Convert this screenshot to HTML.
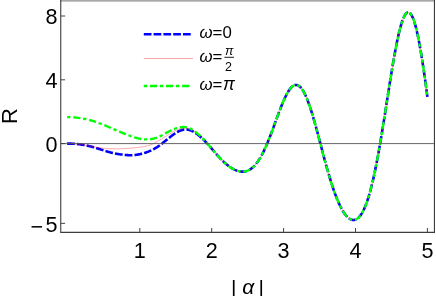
<!DOCTYPE html>
<html><head><meta charset="utf-8"><title>plot</title>
<style>html,body{margin:0;padding:0;background:#fff;overflow:hidden}body{width:436px;height:296px;position:relative;font-family:"Liberation Sans",sans-serif}</style>
</head><body>
<svg width="436" height="296" viewBox="0 0 436 296" style="display:block;position:absolute;left:0;top:0;will-change:transform">
<rect width="436" height="296" fill="#fff"/>
<path d="M67.11 143.60 L67.71 143.60 L68.31 143.60 L68.91 143.60 L69.52 143.61 L70.12 143.62 L70.72 143.64 L71.32 143.66 L71.92 143.68 L72.52 143.70 L73.12 143.73 L73.73 143.76 L74.33 143.80 L74.93 143.84 L75.53 143.89 L76.13 143.94 L76.73 143.99 L77.33 144.05 L77.94 144.11 L78.54 144.18 L79.14 144.25 L79.74 144.33 L80.34 144.41 L80.94 144.50 L81.54 144.59 L82.15 144.69 L82.75 144.79 L83.35 144.89 L83.95 145.00 L84.55 145.11 L85.15 145.23 L85.76 145.35 L86.36 145.47 L86.96 145.60 L87.56 145.73 L88.16 145.87 L88.76 146.01 L89.36 146.16 L89.97 146.31 L90.57 146.46 L91.17 146.61 L91.77 146.77 L92.37 146.93 L92.97 147.10 L93.57 147.27 L94.18 147.44 L94.78 147.62 L95.38 147.79 L95.98 147.97 L96.58 148.16 L97.18 148.34 L97.78 148.53 L98.39 148.72 L98.99 148.91 L99.59 149.10 L100.19 149.29 L100.79 149.48 L101.39 149.68 L102.00 149.87 L102.60 150.06 L103.20 150.26 L103.80 150.45 L104.40 150.64 L105.00 150.83 L105.60 151.01 L106.21 151.20 L106.81 151.38 L107.41 151.56 L108.01 151.74 L108.61 151.92 L109.21 152.09 L109.81 152.26 L110.42 152.42 L111.02 152.58 L111.62 152.73 L112.22 152.88 L112.82 153.02 L113.42 153.16 L114.03 153.29 L114.63 153.42 L115.23 153.54 L115.83 153.66 L116.43 153.77 L117.03 153.88 L117.63 153.98 L118.24 154.08 L118.84 154.17 L119.44 154.26 L120.04 154.35 L120.64 154.43 L121.24 154.51 L121.84 154.58 L122.45 154.65 L123.05 154.72 L123.65 154.79 L124.25 154.85 L124.85 154.91 L125.45 154.97 L126.05 155.02 L126.66 155.07 L127.26 155.12 L127.86 155.16 L128.46 155.19 L129.06 155.22 L129.66 155.24 L130.27 155.24 L130.87 155.24 L131.47 155.23 L132.07 155.21 L132.67 155.18 L133.27 155.14 L133.87 155.09 L134.48 155.04 L135.08 154.97 L135.68 154.90 L136.28 154.81 L136.88 154.72 L137.48 154.62 L138.08 154.52 L138.69 154.40 L139.29 154.28 L139.89 154.15 L140.49 154.02 L141.09 153.88 L141.69 153.73 L142.30 153.57 L142.90 153.41 L143.50 153.24 L144.10 153.07 L144.70 152.88 L145.30 152.69 L145.90 152.50 L146.51 152.29 L147.11 152.08 L147.71 151.85 L148.31 151.62 L148.91 151.38 L149.51 151.13 L150.11 150.87 L150.72 150.60 L151.32 150.33 L151.92 150.04 L152.52 149.74 L153.12 149.43 L153.72 149.11 L154.32 148.78 L154.93 148.44 L155.53 148.09 L156.13 147.73 L156.73 147.36 L157.33 146.97 L157.93 146.58 L158.54 146.17 L159.14 145.76 L159.74 145.33 L160.34 144.89 L160.94 144.45 L161.54 143.99 L162.14 143.53 L162.75 143.06 L163.35 142.58 L163.95 142.09 L164.55 141.60 L165.15 141.11 L165.75 140.62 L166.35 140.12 L166.96 139.62 L167.56 139.13 L168.16 138.63 L168.76 138.14 L169.36 137.65 L169.96 137.17 L170.56 136.70 L171.17 136.23 L171.77 135.76 L172.37 135.31 L172.97 134.87 L173.57 134.44 L174.17 134.02 L174.78 133.61 L175.38 133.21 L175.98 132.83 L176.58 132.47 L177.18 132.12 L177.78 131.79 L178.38 131.47 L178.99 131.18 L179.59 130.90 L180.19 130.65 L180.79 130.42 L181.39 130.21 L181.99 130.03 L182.59 129.87 L183.20 129.74 L183.80 129.63 L184.40 129.55 L185.00 129.50 L185.60 129.48 L186.20 129.49 L186.81 129.53 L187.41 129.60 L188.01 129.70 L188.61 129.82 L189.21 129.97 L189.81 130.15 L190.41 130.35 L191.02 130.58 L191.62 130.83 L192.22 131.10 L192.82 131.39 L193.42 131.71 L194.02 132.04 L194.62 132.40 L195.23 132.77 L195.83 133.16 L196.43 133.57 L197.03 134.00 L197.63 134.45 L198.23 134.91 L198.83 135.39 L199.44 135.89 L200.04 136.40 L200.64 136.93 L201.24 137.47 L201.84 138.03 L202.44 138.60 L203.05 139.18 L203.65 139.78 L204.25 140.39 L204.85 141.01 L205.45 141.64 L206.05 142.28 L206.65 142.93 L207.26 143.59 L207.86 144.25 L208.46 144.92 L209.06 145.60 L209.66 146.28 L210.26 146.97 L210.86 147.66 L211.47 148.36 L212.07 149.07 L212.67 149.79 L213.27 150.50 L213.87 151.21 L214.47 151.92 L215.07 152.63 L215.68 153.33 L216.28 154.02 L216.88 154.71 L217.48 155.39 L218.08 156.06 L218.68 156.72 L219.29 157.38 L219.89 158.03 L220.49 158.66 L221.09 159.29 L221.69 159.90 L222.29 160.50 L222.89 161.09 L223.50 161.67 L224.10 162.24 L224.70 162.79 L225.30 163.33 L225.90 163.86 L226.50 164.37 L227.10 164.86 L227.71 165.34 L228.31 165.81 L228.91 166.26 L229.51 166.70 L230.11 167.12 L230.71 167.52 L231.32 167.91 L231.92 168.28 L232.52 168.63 L233.12 168.96 L233.72 169.28 L234.32 169.58 L234.92 169.86 L235.53 170.12 L236.13 170.37 L236.73 170.59 L237.33 170.79 L237.93 170.97 L238.53 171.13 L239.13 171.27 L239.74 171.39 L240.34 171.49 L240.94 171.56 L241.54 171.61 L242.14 171.63 L242.74 171.63 L243.34 171.60 L243.95 171.55 L244.55 171.47 L245.15 171.36 L245.75 171.23 L246.35 171.07 L246.95 170.87 L247.56 170.65 L248.16 170.39 L248.76 170.11 L249.36 169.79 L249.96 169.44 L250.56 169.05 L251.16 168.63 L251.77 168.18 L252.37 167.69 L252.97 167.16 L253.57 166.60 L254.17 166.00 L254.77 165.36 L255.37 164.68 L255.98 163.96 L256.58 163.21 L257.18 162.41 L257.78 161.58 L258.38 160.71 L258.98 159.80 L259.59 158.84 L260.19 157.85 L260.79 156.82 L261.39 155.75 L261.99 154.64 L262.59 153.50 L263.19 152.31 L263.80 151.09 L264.40 149.83 L265.00 148.54 L265.60 147.21 L266.20 145.85 L266.80 144.46 L267.40 143.04 L268.01 141.59 L268.61 140.11 L269.21 138.60 L269.81 137.08 L270.41 135.52 L271.01 133.95 L271.61 132.36 L272.22 130.75 L272.82 129.13 L273.42 127.50 L274.02 125.86 L274.62 124.21 L275.22 122.56 L275.83 120.91 L276.43 119.26 L277.03 117.62 L277.63 115.98 L278.23 114.35 L278.83 112.73 L279.43 111.14 L280.04 109.56 L280.64 108.00 L281.24 106.47 L281.84 104.97 L282.44 103.50 L283.04 102.06 L283.64 100.67 L284.25 99.31 L284.85 98.00 L285.45 96.74 L286.05 95.52 L286.65 94.36 L287.25 93.25 L287.85 92.21 L288.46 91.22 L289.06 90.30 L289.66 89.44 L290.26 88.65 L290.86 87.93 L291.46 87.29 L292.07 86.72 L292.67 86.22 L293.27 85.80 L293.87 85.47 L294.47 85.21 L295.07 85.04 L295.67 84.94 L296.28 84.94 L296.88 85.01 L297.48 85.17 L298.08 85.42 L298.68 85.75 L299.28 86.17 L299.88 86.68 L300.49 87.27 L301.09 87.94 L301.69 88.70 L302.29 89.54 L302.89 90.46 L303.49 91.47 L304.10 92.55 L304.70 93.71 L305.30 94.95 L305.90 96.26 L306.50 97.64 L307.10 99.10 L307.70 100.62 L308.31 102.21 L308.91 103.86 L309.51 105.57 L310.11 107.34 L310.71 109.17 L311.31 111.05 L311.91 112.97 L312.52 114.95 L313.12 116.97 L313.72 119.02 L314.32 121.12 L314.92 123.24 L315.52 125.40 L316.12 127.59 L316.73 129.80 L317.33 132.03 L317.93 134.28 L318.53 136.54 L319.13 138.82 L319.73 141.10 L320.34 143.39 L320.94 145.67 L321.54 147.96 L322.14 150.25 L322.74 152.52 L323.34 154.79 L323.94 157.05 L324.55 159.29 L325.15 161.51 L325.75 163.71 L326.35 165.90 L326.95 168.05 L327.55 170.18 L328.15 172.28 L328.76 174.35 L329.36 176.39 L329.96 178.39 L330.56 180.36 L331.16 182.29 L331.76 184.18 L332.37 186.04 L332.97 187.85 L333.57 189.62 L334.17 191.34 L334.77 193.02 L335.37 194.65 L335.97 196.24 L336.58 197.78 L337.18 199.28 L337.78 200.72 L338.38 202.12 L338.98 203.47 L339.58 204.77 L340.18 206.02 L340.79 207.21 L341.39 208.36 L341.99 209.46 L342.59 210.50 L343.19 211.49 L343.79 212.43 L344.39 213.32 L345.00 214.15 L345.60 214.93 L346.20 215.66 L346.80 216.33 L347.40 216.95 L348.00 217.51 L348.61 218.02 L349.21 218.47 L349.81 218.86 L350.41 219.20 L351.01 219.47 L351.61 219.69 L352.21 219.85 L352.82 219.94 L353.42 219.98 L354.02 219.95 L354.62 219.86 L355.22 219.70 L355.82 219.48 L356.42 219.19 L357.03 218.83 L357.63 218.40 L358.23 217.90 L358.83 217.32 L359.43 216.68 L360.03 215.95 L360.63 215.16 L361.24 214.28 L361.84 213.32 L362.44 212.29 L363.04 211.17 L363.64 209.97 L364.24 208.69 L364.85 207.32 L365.45 205.87 L366.05 204.33 L366.65 202.70 L367.25 200.98 L367.85 199.17 L368.45 197.28 L369.06 195.30 L369.66 193.22 L370.26 191.06 L370.86 188.80 L371.46 186.46 L372.06 184.03 L372.66 181.51 L373.27 178.90 L373.87 176.20 L374.47 173.43 L375.07 170.56 L375.67 167.62 L376.27 164.59 L376.88 161.49 L377.48 158.32 L378.08 155.07 L378.68 151.75 L379.28 148.37 L379.88 144.92 L380.48 141.41 L381.09 137.85 L381.69 134.24 L382.29 130.58 L382.89 126.87 L383.49 123.13 L384.09 119.36 L384.69 115.56 L385.30 111.74 L385.90 107.90 L386.50 104.06 L387.10 100.20 L387.70 96.35 L388.30 92.51 L388.90 88.68 L389.51 84.88 L390.11 81.10 L390.71 77.35 L391.31 73.65 L391.91 69.99 L392.51 66.39 L393.12 62.84 L393.72 59.37 L394.32 55.97 L394.92 52.65 L395.52 49.42 L396.12 46.29 L396.72 43.26 L397.33 40.33 L397.93 37.52 L398.53 34.83 L399.13 32.27 L399.73 29.84 L400.33 27.54 L400.93 25.39 L401.54 23.39 L402.14 21.54 L402.74 19.85 L403.34 18.32 L403.94 16.95 L404.54 15.76 L405.14 14.74 L405.75 13.89 L406.35 13.22 L406.95 12.74 L407.55 12.44 L408.15 12.32 L408.75 12.39 L409.36 12.64 L409.96 13.08 L410.56 13.71 L411.16 14.53 L411.76 15.53 L412.36 16.72 L412.96 18.10 L413.57 19.65 L414.17 21.39 L414.77 23.30 L415.37 25.39 L415.97 27.65 L416.57 30.08 L417.17 32.67 L417.78 35.42 L418.38 38.33 L418.98 41.39 L419.58 44.60 L420.18 47.94 L420.78 51.42 L421.39 55.03 L421.99 58.77 L422.59 62.62 L423.19 66.58 L423.79 70.64 L424.39 74.80 L424.99 79.06 L425.60 83.40 L426.20 87.81 L426.80 92.30 L427.40 96.84" fill="none" stroke="#0000ff" stroke-width="2.6" stroke-dasharray="7.722 2.101"/>
<path d="M67.11 143.60 L67.71 143.60 L68.31 143.60 L68.91 143.60 L69.52 143.61 L70.12 143.62 L70.72 143.64 L71.32 143.65 L71.92 143.67 L72.52 143.70 L73.12 143.73 L73.73 143.76 L74.33 143.80 L74.93 143.84 L75.53 143.88 L76.13 143.93 L76.73 143.99 L77.33 144.05 L77.94 144.11 L78.54 144.18 L79.14 144.26 L79.74 144.34 L80.34 144.42 L80.94 144.51 L81.54 144.60 L82.15 144.70 L82.75 144.79 L83.35 144.89 L83.95 145.00 L84.55 145.10 L85.15 145.21 L85.76 145.32 L86.36 145.44 L86.96 145.55 L87.56 145.66 L88.16 145.78 L88.76 145.90 L89.36 146.01 L89.97 146.13 L90.57 146.25 L91.17 146.36 L91.77 146.48 L92.37 146.59 L92.97 146.70 L93.57 146.82 L94.18 146.93 L94.78 147.03 L95.38 147.14 L95.98 147.24 L96.58 147.34 L97.18 147.43 L97.78 147.52 L98.39 147.61 L98.99 147.70 L99.59 147.78 L100.19 147.86 L100.79 147.94 L101.39 148.02 L102.00 148.09 L102.60 148.16 L103.20 148.23 L103.80 148.29 L104.40 148.35 L105.00 148.41 L105.60 148.46 L106.21 148.52 L106.81 148.56 L107.41 148.61 L108.01 148.65 L108.61 148.69 L109.21 148.73 L109.81 148.76 L110.42 148.79 L111.02 148.81 L111.62 148.83 L112.22 148.85 L112.82 148.86 L113.42 148.87 L114.03 148.88 L114.63 148.88 L115.23 148.88 L115.83 148.88 L116.43 148.88 L117.03 148.87 L117.63 148.85 L118.24 148.84 L118.84 148.82 L119.44 148.80 L120.04 148.78 L120.64 148.76 L121.24 148.74 L121.84 148.71 L122.45 148.68 L123.05 148.65 L123.65 148.62 L124.25 148.59 L124.85 148.55 L125.45 148.52 L126.05 148.48 L126.66 148.44 L127.26 148.41 L127.86 148.37 L128.46 148.32 L129.06 148.28 L129.66 148.24 L130.27 148.19 L130.87 148.15 L131.47 148.10 L132.07 148.05 L132.67 148.00 L133.27 147.94 L133.87 147.89 L134.48 147.83 L135.08 147.77 L135.68 147.71 L136.28 147.64 L136.88 147.58 L137.48 147.51 L138.08 147.43 L138.69 147.36 L139.29 147.28 L139.89 147.20 L140.49 147.12 L141.09 147.03 L141.69 146.94 L142.30 146.84 L142.90 146.74 L143.50 146.64 L144.10 146.53 L144.70 146.42 L145.30 146.29 L145.90 146.17 L146.51 146.03 L147.11 145.88 L147.71 145.72 L148.31 145.55 L148.91 145.37 L149.51 145.17 L150.11 144.96 L150.72 144.74 L151.32 144.50 L151.92 144.25 L152.52 143.98 L153.12 143.69 L153.72 143.39 L154.32 143.08 L154.93 142.76 L155.53 142.43 L156.13 142.10 L156.73 141.75 L157.33 141.40 L157.93 141.05 L158.54 140.69 L159.14 140.33 L159.74 139.97 L160.34 139.61 L160.94 139.25 L161.54 138.90 L162.14 138.54 L162.75 138.19 L163.35 137.84 L163.95 137.48 L164.55 137.13 L165.15 136.77 L165.75 136.41 L166.35 136.05 L166.96 135.68 L167.56 135.32 L168.16 134.95 L168.76 134.57 L169.36 134.20 L169.96 133.81 L170.56 133.43 L171.17 133.05 L171.77 132.67 L172.37 132.30 L172.97 131.94 L173.57 131.58 L174.17 131.23 L174.78 130.90 L175.38 130.58 L175.98 130.27 L176.58 129.99 L177.18 129.72 L177.78 129.48 L178.38 129.26 L178.99 129.06 L179.59 128.89 L180.19 128.73 L180.79 128.61 L181.39 128.50 L181.99 128.42 L182.59 128.35 L183.20 128.31 L183.80 128.29 L184.40 128.29 L185.00 128.31 L185.60 128.35 L186.20 128.41 L186.81 128.49 L187.41 128.60 L188.01 128.72 L188.61 128.87 L189.21 129.04 L189.81 129.23 L190.41 129.45 L191.02 129.69 L191.62 129.95 L192.22 130.23 L192.82 130.54 L193.42 130.87 L194.02 131.22 L194.62 131.59 L195.23 131.98 L195.83 132.40 L196.43 132.83 L197.03 133.28 L197.63 133.76 L198.23 134.25 L198.83 134.76 L199.44 135.29 L200.04 135.83 L200.64 136.39 L201.24 136.97 L201.84 137.56 L202.44 138.17 L203.05 138.79 L203.65 139.42 L204.25 140.06 L204.85 140.71 L205.45 141.38 L206.05 142.05 L206.65 142.73 L207.26 143.41 L207.86 144.11 L208.46 144.81 L209.06 145.51 L209.66 146.22 L210.26 146.93 L210.86 147.64 L211.47 148.35 L212.07 149.07 L212.67 149.79 L213.27 150.50 L213.87 151.21 L214.47 151.92 L215.07 152.63 L215.68 153.33 L216.28 154.02 L216.88 154.71 L217.48 155.39 L218.08 156.06 L218.68 156.72 L219.29 157.38 L219.89 158.03 L220.49 158.66 L221.09 159.29 L221.69 159.90 L222.29 160.50 L222.89 161.09 L223.50 161.67 L224.10 162.24 L224.70 162.79 L225.30 163.33 L225.90 163.86 L226.50 164.37 L227.10 164.86 L227.71 165.34 L228.31 165.81 L228.91 166.26 L229.51 166.70 L230.11 167.12 L230.71 167.52 L231.32 167.91 L231.92 168.28 L232.52 168.63 L233.12 168.96 L233.72 169.28 L234.32 169.58 L234.92 169.86 L235.53 170.12 L236.13 170.37 L236.73 170.59 L237.33 170.79 L237.93 170.97 L238.53 171.13 L239.13 171.27 L239.74 171.39 L240.34 171.49 L240.94 171.56 L241.54 171.61 L242.14 171.63 L242.74 171.63 L243.34 171.60 L243.95 171.55 L244.55 171.47 L245.15 171.36 L245.75 171.23 L246.35 171.07 L246.95 170.87 L247.56 170.65 L248.16 170.39 L248.76 170.11 L249.36 169.79 L249.96 169.44 L250.56 169.05 L251.16 168.63 L251.77 168.18 L252.37 167.69 L252.97 167.16 L253.57 166.60 L254.17 166.00 L254.77 165.36 L255.37 164.68 L255.98 163.96 L256.58 163.21 L257.18 162.41 L257.78 161.58 L258.38 160.71 L258.98 159.80 L259.59 158.84 L260.19 157.85 L260.79 156.82 L261.39 155.75 L261.99 154.64 L262.59 153.50 L263.19 152.31 L263.80 151.09 L264.40 149.83 L265.00 148.54 L265.60 147.21 L266.20 145.85 L266.80 144.46 L267.40 143.04 L268.01 141.59 L268.61 140.11 L269.21 138.60 L269.81 137.08 L270.41 135.52 L271.01 133.95 L271.61 132.36 L272.22 130.75 L272.82 129.13 L273.42 127.50 L274.02 125.86 L274.62 124.21 L275.22 122.56 L275.83 120.91 L276.43 119.26 L277.03 117.62 L277.63 115.98 L278.23 114.35 L278.83 112.73 L279.43 111.14 L280.04 109.56 L280.64 108.00 L281.24 106.47 L281.84 104.97 L282.44 103.50 L283.04 102.06 L283.64 100.67 L284.25 99.31 L284.85 98.00 L285.45 96.74 L286.05 95.52 L286.65 94.36 L287.25 93.25 L287.85 92.21 L288.46 91.22 L289.06 90.30 L289.66 89.44 L290.26 88.65 L290.86 87.93 L291.46 87.29 L292.07 86.72 L292.67 86.22 L293.27 85.80 L293.87 85.47 L294.47 85.21 L295.07 85.04 L295.67 84.94 L296.28 84.94 L296.88 85.01 L297.48 85.17 L298.08 85.42 L298.68 85.75 L299.28 86.17 L299.88 86.68 L300.49 87.27 L301.09 87.94 L301.69 88.70 L302.29 89.54 L302.89 90.46 L303.49 91.47 L304.10 92.55 L304.70 93.71 L305.30 94.95 L305.90 96.26 L306.50 97.64 L307.10 99.10 L307.70 100.62 L308.31 102.21 L308.91 103.86 L309.51 105.57 L310.11 107.34 L310.71 109.17 L311.31 111.05 L311.91 112.97 L312.52 114.95 L313.12 116.97 L313.72 119.02 L314.32 121.12 L314.92 123.24 L315.52 125.40 L316.12 127.59 L316.73 129.80 L317.33 132.03 L317.93 134.28 L318.53 136.54 L319.13 138.82 L319.73 141.10 L320.34 143.39 L320.94 145.67 L321.54 147.96 L322.14 150.25 L322.74 152.52 L323.34 154.79 L323.94 157.05 L324.55 159.29 L325.15 161.51 L325.75 163.71 L326.35 165.90 L326.95 168.05 L327.55 170.18 L328.15 172.28 L328.76 174.35 L329.36 176.39 L329.96 178.39 L330.56 180.36 L331.16 182.29 L331.76 184.18 L332.37 186.04 L332.97 187.85 L333.57 189.62 L334.17 191.34 L334.77 193.02 L335.37 194.65 L335.97 196.24 L336.58 197.78 L337.18 199.28 L337.78 200.72 L338.38 202.12 L338.98 203.47 L339.58 204.77 L340.18 206.02 L340.79 207.21 L341.39 208.36 L341.99 209.46 L342.59 210.50 L343.19 211.49 L343.79 212.43 L344.39 213.32 L345.00 214.15 L345.60 214.93 L346.20 215.66 L346.80 216.33 L347.40 216.95 L348.00 217.51 L348.61 218.02 L349.21 218.47 L349.81 218.86 L350.41 219.20 L351.01 219.47 L351.61 219.69 L352.21 219.85 L352.82 219.94 L353.42 219.98 L354.02 219.95 L354.62 219.86 L355.22 219.70 L355.82 219.48 L356.42 219.19 L357.03 218.83 L357.63 218.40 L358.23 217.90 L358.83 217.32 L359.43 216.68 L360.03 215.95 L360.63 215.16 L361.24 214.28 L361.84 213.32 L362.44 212.29 L363.04 211.17 L363.64 209.97 L364.24 208.69 L364.85 207.32 L365.45 205.87 L366.05 204.33 L366.65 202.70 L367.25 200.98 L367.85 199.17 L368.45 197.28 L369.06 195.30 L369.66 193.22 L370.26 191.06 L370.86 188.80 L371.46 186.46 L372.06 184.03 L372.66 181.51 L373.27 178.90 L373.87 176.20 L374.47 173.43 L375.07 170.56 L375.67 167.62 L376.27 164.59 L376.88 161.49 L377.48 158.32 L378.08 155.07 L378.68 151.75 L379.28 148.37 L379.88 144.92 L380.48 141.41 L381.09 137.85 L381.69 134.24 L382.29 130.58 L382.89 126.87 L383.49 123.13 L384.09 119.36 L384.69 115.56 L385.30 111.74 L385.90 107.90 L386.50 104.06 L387.10 100.20 L387.70 96.35 L388.30 92.51 L388.90 88.68 L389.51 84.88 L390.11 81.10 L390.71 77.35 L391.31 73.65 L391.91 69.99 L392.51 66.39 L393.12 62.84 L393.72 59.37 L394.32 55.97 L394.92 52.65 L395.52 49.42 L396.12 46.29 L396.72 43.26 L397.33 40.33 L397.93 37.52 L398.53 34.83 L399.13 32.27 L399.73 29.84 L400.33 27.54 L400.93 25.39 L401.54 23.39 L402.14 21.54 L402.74 19.85 L403.34 18.32 L403.94 16.95 L404.54 15.76 L405.14 14.74 L405.75 13.89 L406.35 13.22 L406.95 12.74 L407.55 12.44 L408.15 12.32 L408.75 12.39 L409.36 12.64 L409.96 13.08 L410.56 13.71 L411.16 14.53 L411.76 15.53 L412.36 16.72 L412.96 18.10 L413.57 19.65 L414.17 21.39 L414.77 23.30 L415.37 25.39 L415.97 27.65 L416.57 30.08 L417.17 32.67 L417.78 35.42 L418.38 38.33 L418.98 41.39 L419.58 44.60 L420.18 47.94 L420.78 51.42 L421.39 55.03 L421.99 58.77 L422.59 62.62 L423.19 66.58 L423.79 70.64 L424.39 74.80 L424.99 79.06 L425.60 83.40 L426.20 87.81 L426.80 92.30 L427.40 96.84" fill="none" stroke="#ff0000" stroke-opacity="0.4" stroke-width="0.9"/>
<path d="M67.11 117.13 L67.71 117.12 L68.31 117.12 L68.91 117.13 L69.52 117.14 L70.12 117.16 L70.72 117.18 L71.32 117.21 L71.92 117.24 L72.52 117.28 L73.12 117.32 L73.73 117.36 L74.33 117.41 L74.93 117.47 L75.53 117.53 L76.13 117.59 L76.73 117.66 L77.33 117.73 L77.94 117.80 L78.54 117.88 L79.14 117.96 L79.74 118.05 L80.34 118.14 L80.94 118.24 L81.54 118.34 L82.15 118.44 L82.75 118.55 L83.35 118.66 L83.95 118.78 L84.55 118.90 L85.15 119.02 L85.76 119.15 L86.36 119.28 L86.96 119.42 L87.56 119.56 L88.16 119.71 L88.76 119.86 L89.36 120.01 L89.97 120.17 L90.57 120.34 L91.17 120.50 L91.77 120.68 L92.37 120.85 L92.97 121.03 L93.57 121.22 L94.18 121.41 L94.78 121.60 L95.38 121.80 L95.98 122.00 L96.58 122.21 L97.18 122.42 L97.78 122.63 L98.39 122.85 L98.99 123.07 L99.59 123.29 L100.19 123.52 L100.79 123.75 L101.39 123.99 L102.00 124.22 L102.60 124.46 L103.20 124.70 L103.80 124.95 L104.40 125.19 L105.00 125.44 L105.60 125.69 L106.21 125.95 L106.81 126.20 L107.41 126.46 L108.01 126.71 L108.61 126.97 L109.21 127.23 L109.81 127.49 L110.42 127.75 L111.02 128.01 L111.62 128.27 L112.22 128.53 L112.82 128.79 L113.42 129.05 L114.03 129.31 L114.63 129.57 L115.23 129.83 L115.83 130.09 L116.43 130.34 L117.03 130.60 L117.63 130.86 L118.24 131.11 L118.84 131.37 L119.44 131.62 L120.04 131.87 L120.64 132.12 L121.24 132.38 L121.84 132.62 L122.45 132.87 L123.05 133.12 L123.65 133.36 L124.25 133.61 L124.85 133.85 L125.45 134.09 L126.05 134.33 L126.66 134.56 L127.26 134.80 L127.86 135.03 L128.46 135.26 L129.06 135.49 L129.66 135.71 L130.27 135.93 L130.87 136.15 L131.47 136.36 L132.07 136.57 L132.67 136.78 L133.27 136.98 L133.87 137.17 L134.48 137.36 L135.08 137.55 L135.68 137.72 L136.28 137.89 L136.88 138.06 L137.48 138.21 L138.08 138.36 L138.69 138.50 L139.29 138.63 L139.89 138.75 L140.49 138.87 L141.09 138.97 L141.69 139.06 L142.30 139.14 L142.90 139.22 L143.50 139.28 L144.10 139.32 L144.70 139.36 L145.30 139.39 L145.90 139.40 L146.51 139.41 L147.11 139.40 L147.71 139.38 L148.31 139.35 L148.91 139.31 L149.51 139.25 L150.11 139.18 L150.72 139.10 L151.32 139.01 L151.92 138.91 L152.52 138.79 L153.12 138.66 L153.72 138.52 L154.32 138.36 L154.93 138.19 L155.53 138.01 L156.13 137.81 L156.73 137.61 L157.33 137.38 L157.93 137.15 L158.54 136.90 L159.14 136.65 L159.74 136.37 L160.34 136.09 L160.94 135.80 L161.54 135.49 L162.14 135.18 L162.75 134.86 L163.35 134.54 L163.95 134.21 L164.55 133.87 L165.15 133.53 L165.75 133.20 L166.35 132.86 L166.96 132.53 L167.56 132.20 L168.16 131.87 L168.76 131.55 L169.36 131.24 L169.96 130.94 L170.56 130.64 L171.17 130.36 L171.77 130.09 L172.37 129.82 L172.97 129.57 L173.57 129.32 L174.17 129.08 L174.78 128.86 L175.38 128.64 L175.98 128.44 L176.58 128.24 L177.18 128.06 L177.78 127.88 L178.38 127.72 L178.99 127.57 L179.59 127.43 L180.19 127.31 L180.79 127.21 L181.39 127.13 L181.99 127.06 L182.59 127.02 L183.20 127.01 L183.80 127.02 L184.40 127.05 L185.00 127.11 L185.60 127.19 L186.20 127.30 L186.81 127.43 L187.41 127.59 L188.01 127.77 L188.61 127.98 L189.21 128.20 L189.81 128.46 L190.41 128.73 L191.02 129.03 L191.62 129.34 L192.22 129.68 L192.82 130.04 L193.42 130.42 L194.02 130.81 L194.62 131.23 L195.23 131.66 L195.83 132.11 L196.43 132.58 L197.03 133.07 L197.63 133.57 L198.23 134.09 L198.83 134.62 L199.44 135.17 L200.04 135.73 L200.64 136.31 L201.24 136.90 L201.84 137.51 L202.44 138.13 L203.05 138.75 L203.65 139.39 L204.25 140.04 L204.85 140.70 L205.45 141.37 L206.05 142.05 L206.65 142.73 L207.26 143.42 L207.86 144.11 L208.46 144.81 L209.06 145.51 L209.66 146.22 L210.26 146.93 L210.86 147.64 L211.47 148.35 L212.07 149.07 L212.67 149.79 L213.27 150.50 L213.87 151.21 L214.47 151.92 L215.07 152.63 L215.68 153.33 L216.28 154.02 L216.88 154.71 L217.48 155.39 L218.08 156.06 L218.68 156.72 L219.29 157.38 L219.89 158.03 L220.49 158.66 L221.09 159.29 L221.69 159.90 L222.29 160.50 L222.89 161.09 L223.50 161.67 L224.10 162.24 L224.70 162.79 L225.30 163.33 L225.90 163.86 L226.50 164.37 L227.10 164.86 L227.71 165.34 L228.31 165.81 L228.91 166.26 L229.51 166.70 L230.11 167.12 L230.71 167.52 L231.32 167.91 L231.92 168.28 L232.52 168.63 L233.12 168.96 L233.72 169.28 L234.32 169.58 L234.92 169.86 L235.53 170.12 L236.13 170.37 L236.73 170.59 L237.33 170.79 L237.93 170.97 L238.53 171.13 L239.13 171.27 L239.74 171.39 L240.34 171.49 L240.94 171.56 L241.54 171.61 L242.14 171.63 L242.74 171.63 L243.34 171.60 L243.95 171.55 L244.55 171.47 L245.15 171.36 L245.75 171.23 L246.35 171.07 L246.95 170.87 L247.56 170.65 L248.16 170.39 L248.76 170.11 L249.36 169.79 L249.96 169.44 L250.56 169.05 L251.16 168.63 L251.77 168.18 L252.37 167.69 L252.97 167.16 L253.57 166.60 L254.17 166.00 L254.77 165.36 L255.37 164.68 L255.98 163.96 L256.58 163.21 L257.18 162.41 L257.78 161.58 L258.38 160.71 L258.98 159.80 L259.59 158.84 L260.19 157.85 L260.79 156.82 L261.39 155.75 L261.99 154.64 L262.59 153.50 L263.19 152.31 L263.80 151.09 L264.40 149.83 L265.00 148.54 L265.60 147.21 L266.20 145.85 L266.80 144.46 L267.40 143.04 L268.01 141.59 L268.61 140.11 L269.21 138.60 L269.81 137.08 L270.41 135.52 L271.01 133.95 L271.61 132.36 L272.22 130.75 L272.82 129.13 L273.42 127.50 L274.02 125.86 L274.62 124.21 L275.22 122.56 L275.83 120.91 L276.43 119.26 L277.03 117.62 L277.63 115.98 L278.23 114.35 L278.83 112.73 L279.43 111.14 L280.04 109.56 L280.64 108.00 L281.24 106.47 L281.84 104.97 L282.44 103.50 L283.04 102.06 L283.64 100.67 L284.25 99.31 L284.85 98.00 L285.45 96.74 L286.05 95.52 L286.65 94.36 L287.25 93.25 L287.85 92.21 L288.46 91.22 L289.06 90.30 L289.66 89.44 L290.26 88.65 L290.86 87.93 L291.46 87.29 L292.07 86.72 L292.67 86.22 L293.27 85.80 L293.87 85.47 L294.47 85.21 L295.07 85.04 L295.67 84.94 L296.28 84.94 L296.88 85.01 L297.48 85.17 L298.08 85.42 L298.68 85.75 L299.28 86.17 L299.88 86.68 L300.49 87.27 L301.09 87.94 L301.69 88.70 L302.29 89.54 L302.89 90.46 L303.49 91.47 L304.10 92.55 L304.70 93.71 L305.30 94.95 L305.90 96.26 L306.50 97.64 L307.10 99.10 L307.70 100.62 L308.31 102.21 L308.91 103.86 L309.51 105.57 L310.11 107.34 L310.71 109.17 L311.31 111.05 L311.91 112.97 L312.52 114.95 L313.12 116.97 L313.72 119.02 L314.32 121.12 L314.92 123.24 L315.52 125.40 L316.12 127.59 L316.73 129.80 L317.33 132.03 L317.93 134.28 L318.53 136.54 L319.13 138.82 L319.73 141.10 L320.34 143.39 L320.94 145.67 L321.54 147.96 L322.14 150.25 L322.74 152.52 L323.34 154.79 L323.94 157.05 L324.55 159.29 L325.15 161.51 L325.75 163.71 L326.35 165.90 L326.95 168.05 L327.55 170.18 L328.15 172.28 L328.76 174.35 L329.36 176.39 L329.96 178.39 L330.56 180.36 L331.16 182.29 L331.76 184.18 L332.37 186.04 L332.97 187.85 L333.57 189.62 L334.17 191.34 L334.77 193.02 L335.37 194.65 L335.97 196.24 L336.58 197.78 L337.18 199.28 L337.78 200.72 L338.38 202.12 L338.98 203.47 L339.58 204.77 L340.18 206.02 L340.79 207.21 L341.39 208.36 L341.99 209.46 L342.59 210.50 L343.19 211.49 L343.79 212.43 L344.39 213.32 L345.00 214.15 L345.60 214.93 L346.20 215.66 L346.80 216.33 L347.40 216.95 L348.00 217.51 L348.61 218.02 L349.21 218.47 L349.81 218.86 L350.41 219.20 L351.01 219.47 L351.61 219.69 L352.21 219.85 L352.82 219.94 L353.42 219.98 L354.02 219.95 L354.62 219.86 L355.22 219.70 L355.82 219.48 L356.42 219.19 L357.03 218.83 L357.63 218.40 L358.23 217.90 L358.83 217.32 L359.43 216.68 L360.03 215.95 L360.63 215.16 L361.24 214.28 L361.84 213.32 L362.44 212.29 L363.04 211.17 L363.64 209.97 L364.24 208.69 L364.85 207.32 L365.45 205.87 L366.05 204.33 L366.65 202.70 L367.25 200.98 L367.85 199.17 L368.45 197.28 L369.06 195.30 L369.66 193.22 L370.26 191.06 L370.86 188.80 L371.46 186.46 L372.06 184.03 L372.66 181.51 L373.27 178.90 L373.87 176.20 L374.47 173.43 L375.07 170.56 L375.67 167.62 L376.27 164.59 L376.88 161.49 L377.48 158.32 L378.08 155.07 L378.68 151.75 L379.28 148.37 L379.88 144.92 L380.48 141.41 L381.09 137.85 L381.69 134.24 L382.29 130.58 L382.89 126.87 L383.49 123.13 L384.09 119.36 L384.69 115.56 L385.30 111.74 L385.90 107.90 L386.50 104.06 L387.10 100.20 L387.70 96.35 L388.30 92.51 L388.90 88.68 L389.51 84.88 L390.11 81.10 L390.71 77.35 L391.31 73.65 L391.91 69.99 L392.51 66.39 L393.12 62.84 L393.72 59.37 L394.32 55.97 L394.92 52.65 L395.52 49.42 L396.12 46.29 L396.72 43.26 L397.33 40.33 L397.93 37.52 L398.53 34.83 L399.13 32.27 L399.73 29.84 L400.33 27.54 L400.93 25.39 L401.54 23.39 L402.14 21.54 L402.74 19.85 L403.34 18.32 L403.94 16.95 L404.54 15.76 L405.14 14.74 L405.75 13.89 L406.35 13.22 L406.95 12.74 L407.55 12.44 L408.15 12.32 L408.75 12.39 L409.36 12.64 L409.96 13.08 L410.56 13.71 L411.16 14.53 L411.76 15.53 L412.36 16.72 L412.96 18.10 L413.57 19.65 L414.17 21.39 L414.77 23.30 L415.37 25.39 L415.97 27.65 L416.57 30.08 L417.17 32.67 L417.78 35.42 L418.38 38.33 L418.98 41.39 L419.58 44.60 L420.18 47.94 L420.78 51.42 L421.39 55.03 L421.99 58.77 L422.59 62.62 L423.19 66.58 L423.79 70.64 L424.39 74.80 L424.99 79.06 L425.60 83.40 L426.20 87.81 L426.80 92.30 L427.40 96.84" fill="none" stroke="#00ff00" stroke-width="2.35" stroke-dasharray="3.303 2.803 7.206 2.803"/>
<line x1="60.6" y1="143.6" x2="434.4" y2="143.6" stroke="#555" stroke-width="0.9"/>
<rect x="60.3" y="0" width="374.7" height="1.7" fill="#aaa"/>
<path d="M60.75 0 V232.4 H434.45 V0" fill="none" stroke="#3c3c3c" stroke-width="1.1"/>
<line x1="139.80" y1="228" x2="139.80" y2="232.4" stroke="#444" stroke-width="1"/>
<line x1="211.70" y1="228" x2="211.70" y2="232.4" stroke="#444" stroke-width="1"/>
<line x1="283.60" y1="228" x2="283.60" y2="232.4" stroke="#444" stroke-width="1"/>
<line x1="355.50" y1="228" x2="355.50" y2="232.4" stroke="#444" stroke-width="1"/>
<line x1="427.40" y1="228" x2="427.40" y2="232.4" stroke="#444" stroke-width="1"/>
<line x1="60.8" y1="16.00" x2="65.1" y2="16.00" stroke="#444" stroke-width="1"/>
<line x1="60.8" y1="79.80" x2="65.1" y2="79.80" stroke="#444" stroke-width="1"/>
<line x1="60.8" y1="143.60" x2="65.1" y2="143.60" stroke="#444" stroke-width="1"/>
<line x1="60.8" y1="223.35" x2="65.1" y2="223.35" stroke="#444" stroke-width="1"/>
<text x="139.80" y="258.1" font-size="21.6" text-anchor="middle" font-family="Liberation Sans, sans-serif">1</text>
<text x="211.70" y="258.1" font-size="21.6" text-anchor="middle" font-family="Liberation Sans, sans-serif">2</text>
<text x="283.60" y="258.1" font-size="21.6" text-anchor="middle" font-family="Liberation Sans, sans-serif">3</text>
<text x="355.50" y="258.1" font-size="21.6" text-anchor="middle" font-family="Liberation Sans, sans-serif">4</text>
<text x="427.40" y="258.1" font-size="21.6" text-anchor="middle" font-family="Liberation Sans, sans-serif">5</text>
<text x="57.5" y="24.20" font-size="21.6" text-anchor="end" font-family="Liberation Sans, sans-serif">8</text>
<text x="57.5" y="88.00" font-size="21.6" text-anchor="end" font-family="Liberation Sans, sans-serif">4</text>
<text x="57.5" y="151.80" font-size="21.6" text-anchor="end" font-family="Liberation Sans, sans-serif">0</text>
<text x="57.5" y="231.55" font-size="21.6" text-anchor="end" font-family="Liberation Sans, sans-serif"><tspan dy="2.0">−</tspan><tspan dy="-2.0" dx="2.4">5</tspan></text>
<text transform="translate(16.7 116) rotate(-90)" font-size="22" text-anchor="middle" font-family="Liberation Sans, sans-serif">R</text>
<text x="233.8" y="294.6" font-size="21" text-anchor="middle" font-family="Liberation Sans, sans-serif">|</text><text x="248.2" y="293.8" font-size="21" text-anchor="middle" font-style="italic" font-family="Liberation Sans, sans-serif">α</text><text x="261.3" y="294.6" font-size="21" text-anchor="middle" font-family="Liberation Sans, sans-serif">|</text>
<line x1="143.8" y1="34.2" x2="190.8" y2="34.2" stroke="#0000ff" stroke-width="2.6" stroke-dasharray="7.7 2.1"/>
<line x1="143.8" y1="58.5" x2="193" y2="58.5" stroke="#ff0000" stroke-opacity="0.4" stroke-width="0.9"/>
<line x1="143.8" y1="86" x2="189.4" y2="86" stroke="#00ff00" stroke-width="2.35" stroke-dasharray="3.3 2.8 7.2 2.8"/>
<text x="199.5" y="38.4" font-size="16.8" font-family="Liberation Sans, sans-serif"><tspan font-style="italic">ω</tspan>=0</text>
<text x="199.5" y="61.9" font-size="16.8" font-family="Liberation Sans, sans-serif"><tspan font-style="italic">ω</tspan>=</text>
<text x="229.2" y="54.8" font-size="12.6" text-anchor="middle" font-style="italic" font-family="Liberation Sans, sans-serif">π</text>
<line x1="224.4" y1="57.3" x2="234" y2="57.3" stroke="#000" stroke-width="0.9"/>
<text x="228.6" y="70.8" font-size="12.5" text-anchor="middle" font-family="Liberation Sans, sans-serif">2</text>
<text x="199.5" y="89.9" font-size="16.8" font-family="Liberation Sans, sans-serif"><tspan font-style="italic">ω</tspan>=<tspan font-style="italic" dx="0.5" font-size="17.6">π</tspan></text>
</svg>
</body></html>
